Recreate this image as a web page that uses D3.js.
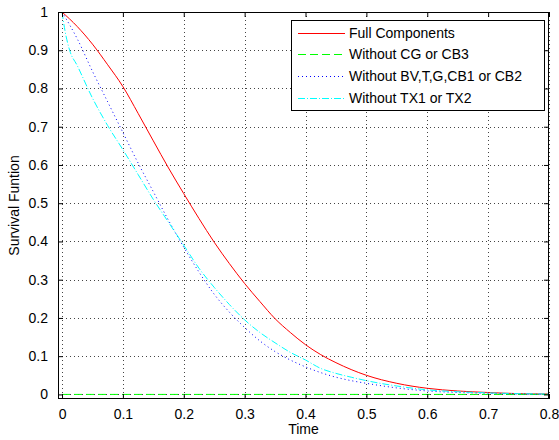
<!DOCTYPE html>
<html>
<head>
<meta charset="utf-8">
<script src="https://cdn.jsdelivr.net/npm/d3@7"></script>
<style>
  html, body { margin: 0; padding: 0; background: #fff; }
  svg text { font-family: "Liberation Sans", Arial, sans-serif; fill: #000; }
</style>
</head>
<body>
<svg id="chart" width="559" height="440"></svg>
<script>
// ---- Data ----
const timeFull = [0, 0.025, 0.05, 0.075, 0.1, 0.125, 0.15, 0.175, 0.2, 0.225, 0.25, 0.275, 0.3, 0.325, 0.35, 0.375, 0.4, 0.425, 0.45, 0.475, 0.5, 0.55, 0.6, 0.65, 0.7, 0.75, 0.8];
const fullComponents = [1.0, 0.962, 0.916, 0.862, 0.805, 0.735, 0.663, 0.592, 0.525, 0.46, 0.398, 0.342, 0.29, 0.243, 0.198, 0.162, 0.13, 0.104, 0.083, 0.065, 0.05, 0.029, 0.016, 0.009, 0.005, 0.002, 0.001];

const timeCG = [0, 0.1, 0.2, 0.3, 0.4, 0.5, 0.6, 0.7, 0.8];
const withoutCG = [0, 0, 0, 0, 0, 0, 0, 0, 0];

const timeBV = [0, 0.025, 0.05, 0.075, 0.1, 0.125, 0.15, 0.175, 0.2, 0.225, 0.25, 0.275, 0.3, 0.325, 0.35, 0.375, 0.4, 0.425, 0.45, 0.475, 0.5, 0.55, 0.6, 0.65, 0.7, 0.75, 0.8];
const withoutBV = [1.0, 0.93, 0.845, 0.765, 0.685, 0.605, 0.53, 0.455, 0.385, 0.32, 0.262, 0.215, 0.175, 0.14, 0.112, 0.09, 0.072, 0.057, 0.045, 0.036, 0.029, 0.017, 0.009, 0.005, 0.003, 0.001, 0.0];

const timeTX = [0, 0.005, 0.0125, 0.025, 0.05, 0.075, 0.1, 0.125, 0.15, 0.175, 0.2, 0.225, 0.25, 0.275, 0.3, 0.325, 0.35, 0.375, 0.4, 0.425, 0.45, 0.475, 0.5, 0.55, 0.6, 0.65, 0.7, 0.75, 0.8];
const withoutTX = [1.0, 0.95, 0.9, 0.86, 0.775, 0.703, 0.64, 0.575, 0.51, 0.45, 0.39, 0.33, 0.28, 0.235, 0.195, 0.162, 0.135, 0.11, 0.09, 0.068, 0.055, 0.045, 0.036, 0.022, 0.012, 0.007, 0.004, 0.002, 0.001];

const legendLabels = ["Full Components", "Without CG or CB3", "Without BV,T,G,CB1 or CB2", "Without TX1 or TX2"];
const xTicks = [0, 0.1, 0.2, 0.3, 0.4, 0.5, 0.6, 0.7, 0.8];
const yTicks = [0, 0.1, 0.2, 0.3, 0.4, 0.5, 0.6, 0.7, 0.8, 0.9, 1];
const xLabel = "Time";
const yLabel = "Survival Funtion";

// ---- Layout ----
const svg = d3.select("#chart");
const box = { left: 58, right: 549, top: 12, bottom: 399 };
const x = d3.scaleLinear().domain([-0.0066, 0.8]).range([box.left, box.right]);
const y = d3.scaleLinear().domain([-0.012, 1]).range([box.bottom, box.top]);

const series = [
  { t: timeFull, v: fullComponents, color: "#ff0000", dash: null },
  { t: timeCG, v: withoutCG, color: "#00ff00", dash: "8,4" },
  { t: timeBV, v: withoutBV, color: "#0000ff", dash: "1,3" },
  { t: timeTX, v: withoutTX, color: "#00ffff", dash: "7,2,1,2" }
];

// grid
const grid = svg.append("g").attr("stroke", "#444").attr("stroke-width", 1).attr("stroke-dasharray", "1,3");
grid.selectAll(".gx").data(xTicks).enter().append("line")
  .attr("x1", d => Math.round(x(d)) + 0.5).attr("x2", d => Math.round(x(d)) + 0.5)
  .attr("y1", box.top).attr("y2", box.bottom);
grid.selectAll(".gy").data(yTicks).enter().append("line")
  .attr("y1", d => Math.round(y(d)) + 0.5).attr("y2", d => Math.round(y(d)) + 0.5)
  .attr("x1", box.left).attr("x2", box.right);

// curves
svg.append("clipPath").attr("id", "clip").append("rect")
  .attr("x", box.left).attr("y", box.top).attr("width", box.right - box.left).attr("height", box.bottom - box.top);
const line = d3.line().curve(d3.curveMonotoneX).x(d => x(d[0])).y(d => y(d[1]));
const curves = svg.append("g").attr("clip-path", "url(#clip)");
series.forEach(s => {
  curves.append("path")
    .datum(s.t.map((t, i) => [t, s.v[i]]))
    .attr("d", line)
    .attr("fill", "none")
    .attr("stroke", s.color)
    .attr("stroke-width", 1)
    .attr("stroke-dasharray", s.dash);
});

// axes (ticks inside, box)
const tickLen = 5;
const axB = d3.axisBottom(x).tickValues(xTicks).tickSize(-tickLen).tickPadding(10).tickFormat(d3.format("~g"));
const axT = d3.axisTop(x).tickValues(xTicks).tickSize(-tickLen).tickFormat("");
const axL = d3.axisLeft(y).tickValues(yTicks).tickSize(-tickLen).tickPadding(10).tickFormat(d3.format("~g"));
const axR = d3.axisRight(y).tickValues(yTicks).tickSize(-tickLen).tickFormat("");

function styleAxis(g) {
  g.select(".domain").remove();
  g.selectAll(".tick line").attr("stroke", "#000");
  g.selectAll(".tick text").attr("font-size", 14).attr("fill", "#222").style("font-family", "'Liberation Sans', Arial, sans-serif");
}
svg.append("g").attr("transform", `translate(0,${box.bottom})`).call(axB).call(styleAxis);
svg.append("g").attr("transform", `translate(0,${box.top})`).call(axT).call(styleAxis);
svg.append("g").attr("transform", `translate(${box.left},0)`).call(axL).call(styleAxis);
svg.append("g").attr("transform", `translate(${box.right},0)`).call(axR).call(styleAxis);

svg.append("rect")
  .attr("x", box.left + 0.5).attr("y", box.top + 0.5)
  .attr("width", box.right - box.left - 1).attr("height", box.bottom - box.top - 1)
  .attr("fill", "none").attr("stroke", "#000").attr("stroke-width", 1);

// axis labels
svg.append("text").attr("x", (box.left + box.right) / 2).attr("y", 434)
  .attr("text-anchor", "middle").attr("font-size", 14).attr("fill", "#222").text(xLabel);
svg.append("text").attr("transform", `translate(19,${(box.top + box.bottom) / 2}) rotate(-90)`)
  .attr("text-anchor", "middle").attr("font-size", 14).attr("fill", "#222").text(yLabel);

// legend
const lg = { left: 291, top: 20, right: 544, bottom: 110 };
svg.append("rect").attr("x", lg.left + 0.5).attr("y", lg.top + 0.5)
  .attr("width", lg.right - lg.left).attr("height", lg.bottom - lg.top)
  .attr("fill", "#fff").attr("stroke", "#000").attr("stroke-width", 1);
const rowY = [32.5, 54, 76, 97.5];
legendLabels.forEach((lab, i) => {
  const s = series[i];
  svg.append("line").attr("x1", 298).attr("x2", 345)
    .attr("y1", Math.round(rowY[i]) + 0.5).attr("y2", Math.round(rowY[i]) + 0.5)
    .attr("stroke", s.color).attr("stroke-width", 1).attr("stroke-dasharray", s.dash);
  svg.append("text").attr("x", 349).attr("y", rowY[i]).attr("dy", "0.36em")
    .attr("font-size", 14).attr("fill", "#222").text(lab);
});
</script>
</body>
</html>
